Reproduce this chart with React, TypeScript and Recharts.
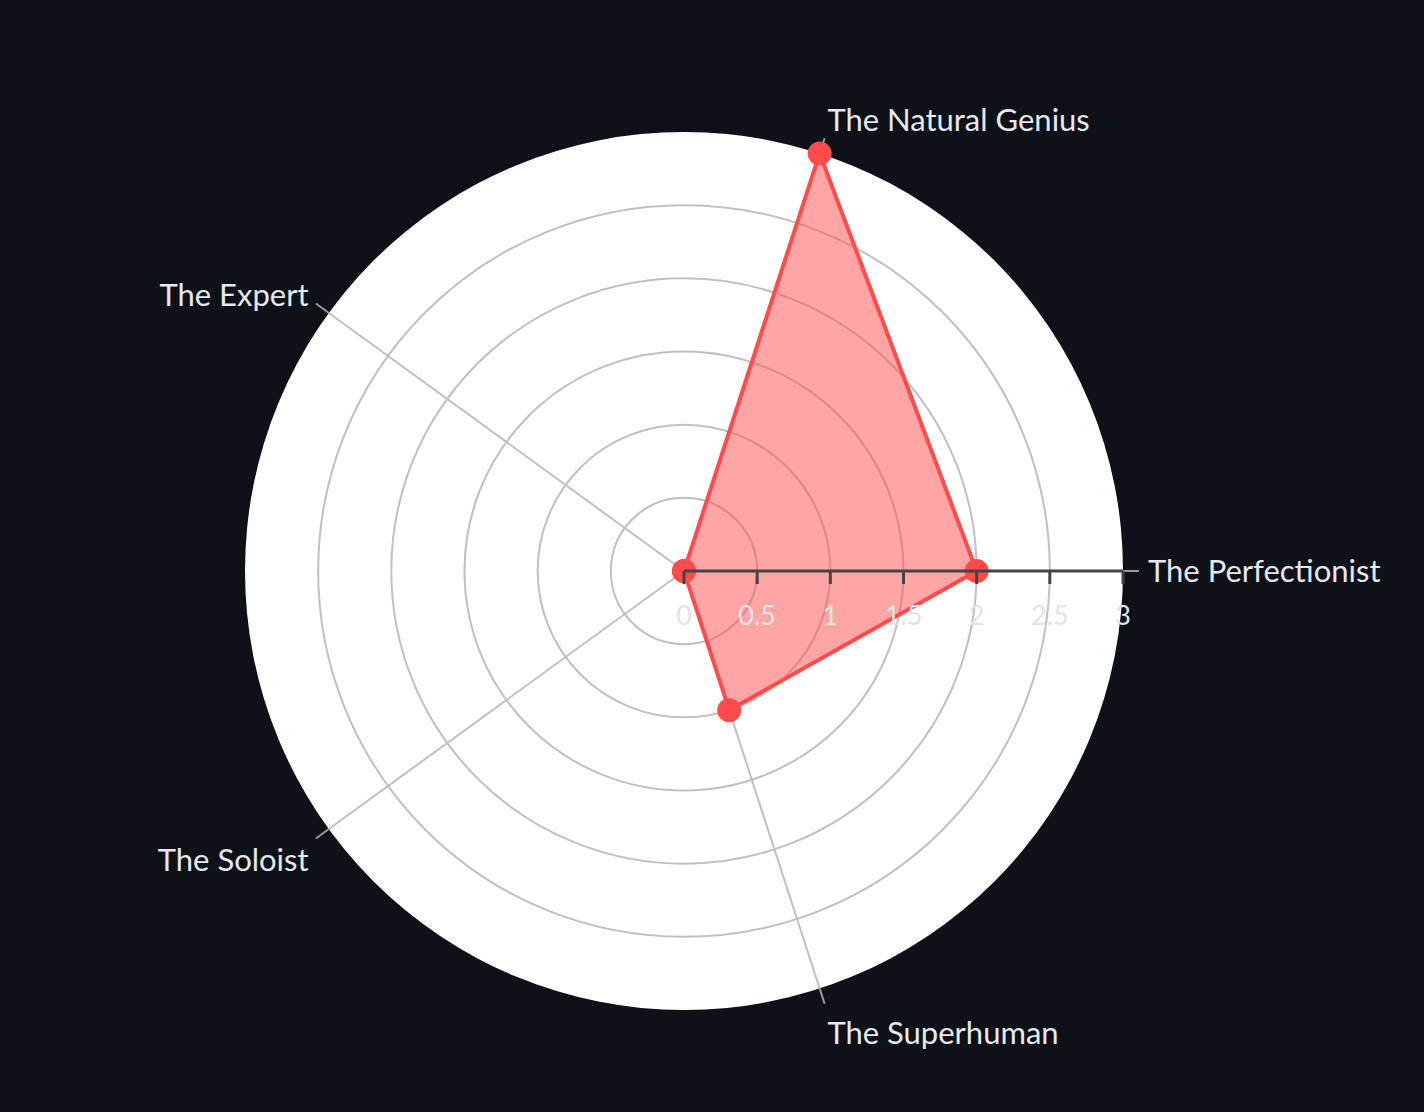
import React from "react";
import {
  RadarChart,
  Radar,
  PolarGrid,
  PolarAngleAxis,
  PolarRadiusAxis,
} from "recharts";

// ---- data (clockwise order starting at 72°) ----
const categories = [
  "The Natural Genius",
  "The Perfectionist",
  "The Superhuman",
  "The Soloist",
  "The Expert",
];
const scores = [3, 2, 1, 0, 0];
const radiusTicks = [0, 0.5, 1, 1.5, 2, 2.5, 3];

const data = categories.map((c, i) => ({ category: c, value: scores[i] }));

// ---- layout / style ----
const W = 1424;
const H = 1112;
const CX = 684;
const CY = 571;
const R = 439;
const MAX = radiusTicks[radiusTicks.length - 1];
const FONT = "Lato, 'Noto Sans', sans-serif";
const BG = "#0e1117";
const RED = "#ff4b4b";

const gridRadii = radiusTicks.slice(1, -1).map((v) => (v / MAX) * R);

const AngleTick = (props: any) => {
  const { x, y, payload, cx, cy } = props;
  const ccx = typeof cx === "number" ? cx : CX;
  const ccy = typeof cy === "number" ? cy : CY;
  const a = Math.atan2(-(y - ccy), x - ccx);
  const c = Math.cos(a);
  const s = Math.sin(a);
  const anchor = Math.abs(c) < 0.05 ? "middle" : c > 0 ? "start" : "end";
  const dy = 11 - 25 * s + 6 * Math.abs(s) + (c < 0 ? 3 : 0);
  return (
    <text
      x={x + 9 * c}
      y={y + dy}
      textAnchor={anchor}
      fill="#e6e9ef"
      fontSize={31}
      fontFamily={FONT}
    >
      {payload.value}
    </text>
  );
};

const RadiusTick = (props: any) => {
  const { x, y, payload } = props;
  return (
    <g>
      <line x1={x} y1={y} x2={x} y2={y + 13} stroke="#444" strokeWidth={3} />
      <text
        x={x}
        y={y + 54}
        textAnchor="middle"
        fill="#dfe3ea"
        fontSize={27}
        fontFamily={FONT}
      >
        {payload.value}
      </text>
    </g>
  );
};

export default function App() {
  return (
    <div
      style={{
        position: "absolute",
        left: 0,
        top: 0,
        width: W,
        height: H,
        background: BG,
        overflow: "hidden",
      }}
    >
      <div
        style={{
          position: "absolute",
          left: CX - R,
          top: CY - R,
          width: 2 * R,
          height: 2 * R,
          borderRadius: "50%",
          background: "#ffffff",
        }}
      />
      <div style={{ position: "absolute", left: 0, top: 0 }}>
        <RadarChart
          width={W}
          height={H}
          cx={CX}
          cy={CY}
          outerRadius={R}
          startAngle={72}
          endAngle={-288}
          data={data}
          margin={{ top: 0, right: 0, bottom: 0, left: 0 }}
        >
          <PolarGrid
            gridType="circle"
            polarRadius={gridRadii}
            stroke="#c0c0c0"
            strokeWidth={2}
          />
          <PolarAngleAxis
            dataKey="category"
            axisLine={false}
            tickSize={16}
            tickLine={{ stroke: "#9a9a9a", strokeWidth: 2 }}
            tick={AngleTick}
          />
          <Radar
            dataKey="value"
            stroke={RED}
            strokeWidth={4}
            fill={RED}
            fillOpacity={0.5}
            dot={{ r: 12, fill: RED, fillOpacity: 1, stroke: "none" }}
            isAnimationActive={false}
          />
          <PolarRadiusAxis
            angle={0}
            type="number"
            domain={[0, MAX]}
            ticks={radiusTicks as any}
            tickCount={radiusTicks.length}
            axisLine={{ stroke: "#444", strokeWidth: 3 }}
            tick={RadiusTick}
            {...({ zIndex: 1000 } as any)}
          />
        </RadarChart>
      </div>
    </div>
  );
}
